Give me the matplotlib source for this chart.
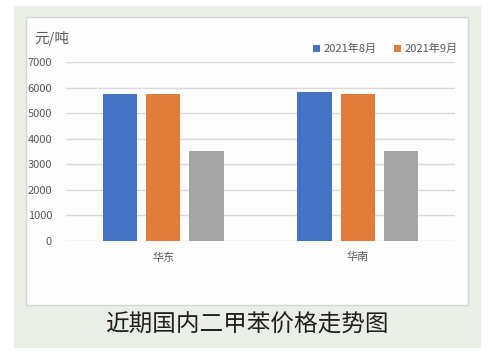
import numpy as np
import matplotlib
matplotlib.use('Agg')
import matplotlib.pyplot as plt
from matplotlib.patches import Rectangle

plt.rcParams['font.family'] = ['Noto Sans CJK SC', 'DejaVu Sans']

regions = ['华东', '华南']
aug = [5750, 5820]
sep = [5740, 5765]
third = [3510, 3520]
series_names = ['2021年8月', '2021年9月']
yticks = [0, 1000, 2000, 3000, 4000, 5000, 6000, 7000]

W, H = 488, 356
fig = plt.figure(figsize=(W/100, H/100), dpi=100)
fig.patch.set_facecolor('white')

# green backdrop and white chart panel (pixel boxes -> figure fractions)
def box(x0, y0, x1, y1):
	return (x0/W, 1 - y1/H, (x1-x0)/W, (y1-y0)/H)

bx, by, bw, bh = box(14, 6, 481, 348)
fig.patches.append(Rectangle((bx, by), bw, bh, transform=fig.transFigure, facecolor='#e9eee7', edgecolor='none', zorder=0))
px, py, pw, ph = box(26, 17, 468, 305)
fig.patches.append(Rectangle((px, py), pw, ph, transform=fig.transFigure, facecolor='#fdfdfd', edgecolor='#d4d8d2', lw=1, zorder=1))

ax = fig.add_axes(box(66, 62.2, 455, 241))
ax.set_zorder(5)
ax.set_facecolor('none')

x = np.arange(len(regions))
w = 0.177
step = 0.2226
ax.bar(x - step, aug, w, color='#4472c4', label=series_names[0], zorder=3)
ax.bar(x, sep, w, color='#e07b39', label=series_names[1], zorder=3)
ax.bar(x + step, third, w, color='#a5a5a5', zorder=3)

ax.set_xlim(-0.5, 1.5)
ax.set_ylim(0, 7000)
ax.set_yticks(yticks)
ax.set_yticklabels([str(v) for v in yticks])
ax.set_xticks(x)
ax.set_xticklabels(regions)
ax.grid(axis='y', color='#d9d9d9', lw=1, zorder=0)
for s in ax.spines.values():
	s.set_visible(False)
ax.tick_params(axis='both', length=0, labelsize=8, colors='#595959')
ax.tick_params(axis='y', pad=10)
ax.tick_params(axis='x', pad=8)

fig.text(34/W, 1 - 39/H, '元/吨', fontsize=10.5, color='#595959', va='center', ha='left', zorder=6)

ax.legend(loc='lower right', bbox_to_anchor=(1.018, 1.02), ncol=2, frameon=False,
	fontsize=8, labelcolor='#595959', handlelength=0.6, handleheight=0.6,
	handletextpad=0.3, columnspacing=1.6, borderaxespad=0)

fig.text(247/W, 1 - 325/H, '近期国内二甲苯价格走势图', fontsize=17, color='#231f20', ha='center', va='center', zorder=6)

fig.savefig('out.png', dpi=100)
